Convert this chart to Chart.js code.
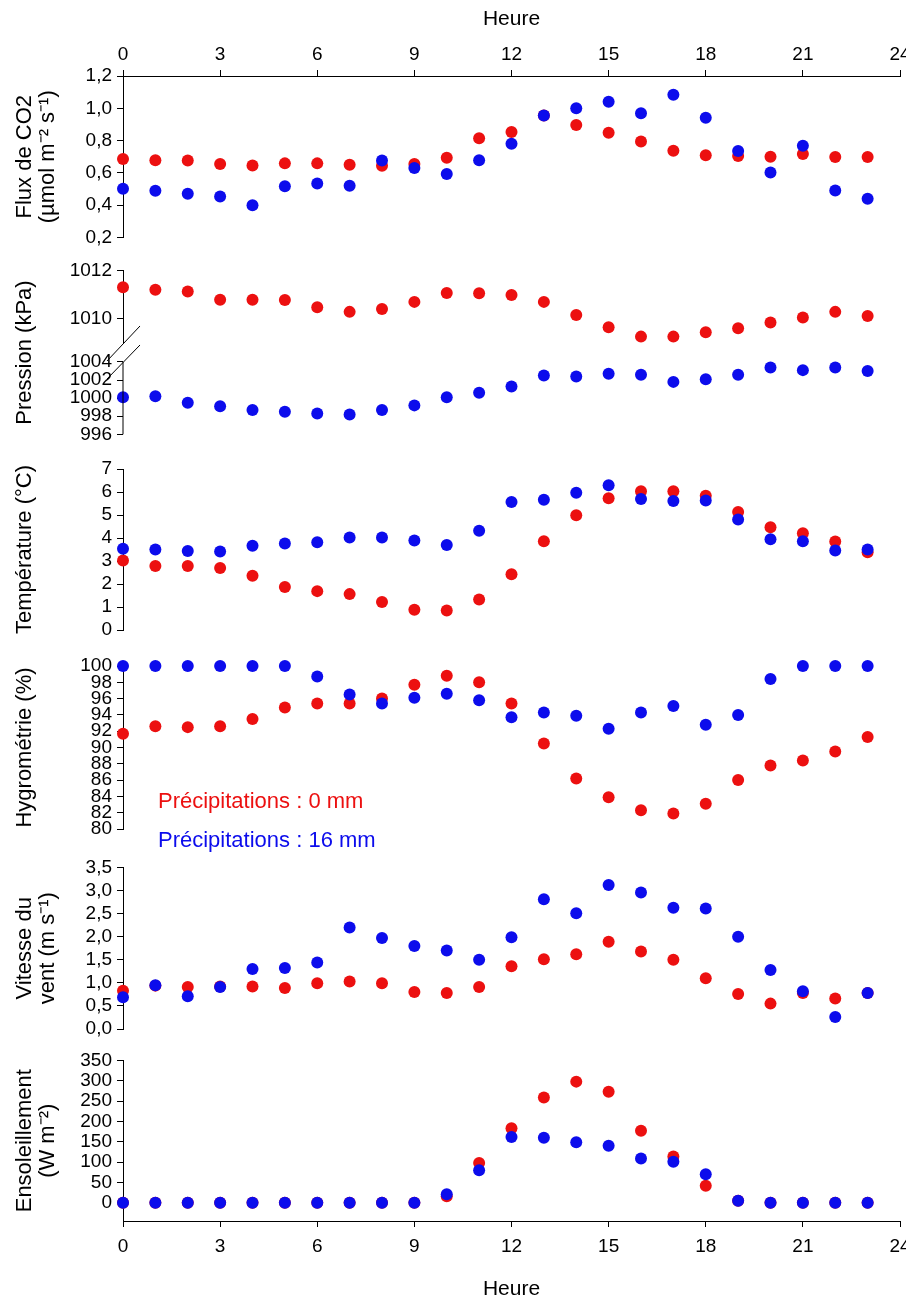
<!DOCTYPE html>
<html lang="fr">
<head>
<meta charset="utf-8">
<title>Cycle journalier - précipitations 0 mm / 16 mm</title>
<script src="https://cdn.jsdelivr.net/npm/chart.js@4.4.1/dist/chart.umd.min.js"></script>
<style>
  body { margin: 0; background: #fff; }
  #wrap { position: relative; width: 906px; height: 1302px; background: #fff; }
  #wrap canvas { position: absolute; left: 0; top: 0; }
</style>
</head>
<body>
<div id="wrap">
  <canvas id="co2" width="906" height="1302"></canvas>
  <canvas id="pressTop" width="906" height="1302"></canvas>
  <canvas id="pressBottom" width="906" height="1302"></canvas>
  <canvas id="temp" width="906" height="1302"></canvas>
  <canvas id="hum" width="906" height="1302"></canvas>
  <canvas id="wind" width="906" height="1302"></canvas>
  <canvas id="sun" width="906" height="1302"></canvas>
</div>
<script>
// Data - "dry" = 0 mm of rain, "wet" = 16 mm
const hours = [0, 1, 2, 3, 4, 5, 6, 7, 8, 9, 10, 11, 12, 13, 14, 15, 16, 17, 18, 19, 20, 21, 22, 23];
const hourTicks = [0, 3, 6, 9, 12, 15, 18, 21, 24];

const co2Dry = [0.686, 0.679, 0.677, 0.655, 0.646, 0.659, 0.659, 0.650, 0.644, 0.655, 0.694, 0.814,
                0.853, 0.955, 0.896, 0.849, 0.795, 0.737, 0.710, 0.704, 0.700, 0.717, 0.698, 0.698];
const co2Wet = [0.502, 0.489, 0.471, 0.454, 0.400, 0.518, 0.535, 0.520, 0.677, 0.630, 0.593, 0.679,
                0.781, 0.956, 1.000, 1.041, 0.969, 1.084, 0.942, 0.735, 0.603, 0.768, 0.491, 0.440];
const co2Ticks = [0.2, 0.4, 0.6, 0.8, 1.0, 1.2];

const pressureDry = [1011.30, 1011.20, 1011.13, 1010.78, 1010.78, 1010.77, 1010.46, 1010.27, 1010.39, 1010.69, 1011.06, 1011.05,
                     1010.98, 1010.69, 1010.14, 1009.62, 1009.23, 1009.23, 1009.41, 1009.58, 1009.82, 1010.03, 1010.27, 1010.10];
const pressureWet = [1000.1, 1000.2, 999.5, 999.1, 998.7, 998.5, 998.3, 998.2, 998.7, 999.2, 1000.1, 1000.6,
                     1001.3, 1002.5, 1002.4, 1002.7, 1002.6, 1001.8, 1002.1, 1002.6, 1003.4, 1003.1, 1003.4, 1003.0];
const pressureTopTicks = [1010, 1012];
const pressureBottomTicks = [996, 998, 1000, 1002, 1004];

const tempDry = [3.02, 2.78, 2.78, 2.70, 2.36, 1.87, 1.69, 1.56, 1.22, 0.88, 0.85, 1.33,
                 2.42, 3.86, 4.99, 5.73, 6.03, 6.03, 5.84, 5.13, 4.47, 4.21, 3.85, 3.38];
const tempWet = [3.53, 3.50, 3.43, 3.41, 3.66, 3.76, 3.82, 4.02, 4.02, 3.89, 3.70, 4.32,
                 5.57, 5.66, 5.97, 6.29, 5.70, 5.61, 5.63, 4.80, 3.95, 3.86, 3.46, 3.50];
const tempTicks = [0, 1, 2, 3, 4, 5, 6, 7];

const humidityDry = [91.7, 92.6, 92.5, 92.6, 93.5, 94.9, 95.4, 95.4, 96.0, 97.7, 98.8, 98.0,
                     95.4, 90.5, 86.2, 83.9, 82.3, 81.9, 83.1, 86.0, 87.8, 88.4, 89.5, 91.3];
const humidityWet = [100, 100, 100, 100, 100, 100, 98.7, 96.5, 95.4, 96.1, 96.6, 95.8,
                     93.7, 94.3, 93.9, 92.3, 94.3, 95.1, 92.8, 94.0, 98.4, 100, 100, 100];
const humidityTicks = [80, 82, 84, 86, 88, 90, 92, 94, 96, 98, 100];

const windDry = [0.83, 0.94, 0.91, 0.92, 0.92, 0.89, 0.99, 1.03, 0.99, 0.80, 0.78, 0.91,
                 1.36, 1.51, 1.62, 1.89, 1.68, 1.50, 1.10, 0.76, 0.55, 0.78, 0.66, 0.78];
const windWet = [0.69, 0.95, 0.71, 0.91, 1.30, 1.32, 1.44, 2.20, 1.97, 1.80, 1.70, 1.50,
                 1.99, 2.81, 2.51, 3.12, 2.96, 2.63, 2.61, 2.00, 1.28, 0.82, 0.26, 0.78];
const windTicks = [0, 0.5, 1.0, 1.5, 2.0, 2.5, 3.0, 3.5];

const sunDry = [0, 0, 0, 0, 0, 0, 0, 0, 0, 0, 16, 98,
                183, 259, 298, 273, 177, 114, 42, 5, 0, 0, 0, 0];
const sunWet = [0, 0, 0, 0, 0, 0, 0, 0, 0, 0, 21, 80,
                162, 160, 149, 140, 109, 101, 70, 5, 0, 0, 0, 0];
const sunTicks = [0, 50, 100, 150, 200, 250, 300, 350];

const LABEL_DRY = 'Précipitations : 0 mm';
const LABEL_WET = 'Précipitations : 16 mm';
const RED = '#ec1010';
const BLUE = '#0c0cec';

// Page geometry
const W = 906, H = 1302;
const AXIS_LEFT = 123;   // pixel of hour 0
const AXIS_RIGHT = 900;  // pixel of hour 24

Chart.defaults.font.family = "'Liberation Sans', Arial, Helvetica, sans-serif";
Chart.defaults.color = '#000';

const toPoints = values => values ? hours.map((h, i) => ({x: h, y: values[i]})) : null;
const fmtInt = v => String(v);
const fmtComma = v => v.toFixed(1).replace('.', ',');

// Legend written in the humidity panel
const legendText = {
    id: 'legendText',
    afterDraw(chart) {
        const {ctx, chartArea} = chart;
        const rows = [136, 175];
        ctx.save();
        ctx.font = "22px 'Liberation Sans', Arial, sans-serif";
        ctx.textBaseline = 'middle';
        chart.data.datasets.forEach((ds, i) => {
            ctx.fillStyle = ds.backgroundColor;
            ctx.fillText(ds.label, chartArea.left + 35, chartArea.top + rows[i]);
        });
        ctx.restore();
    }
};

// Lower part of the broken pressure axis + the two break marks
const axisBreak = {
    id: 'axisBreak',
    afterDraw(chart) {
        const {ctx, chartArea} = chart;
        const y = chart.scales.y;
        const x0 = chartArea.left;
        const yTop = y.getPixelForValue(pressureBottomTicks[pressureBottomTicks.length - 1]);
        ctx.save();
        ctx.strokeStyle = '#000';
        ctx.lineWidth = 1;
        ctx.beginPath();
        ctx.moveTo(x0, yTop);
        ctx.lineTo(x0, chartArea.bottom);
        ctx.moveTo(x0 - 16, yTop - 1);
        ctx.lineTo(x0 + 17, yTop - 36);
        ctx.moveTo(x0 - 16, yTop + 17);
        ctx.lineTo(x0 + 17, yTop - 17);
        ctx.stroke();
        ctx.restore();
    }
};

function makePanel(id, cfg) {
    const datasets = [];
    if (cfg.dry) datasets.push({label: LABEL_DRY, data: toPoints(cfg.dry), backgroundColor: RED, order: 1});
    if (cfg.wet) datasets.push({label: LABEL_WET, data: toPoints(cfg.wet), backgroundColor: BLUE, order: 0});

    const xTop = cfg.xPos === 'top';
    const xBottom = cfg.xPos === 'bottom';

    return new Chart(document.getElementById(id), {
        type: 'scatter',
        data: { datasets: datasets },
        plugins: cfg.plugins || [],
        options: {
            responsive: false,
            animation: false,
            events: [],
            layout: {
                autoPadding: false,
                padding: {
                    left: 0,
                    right: W - AXIS_RIGHT,
                    top: xTop ? 0 : cfg.top,
                    bottom: xBottom ? 0 : H - cfg.bottom
                }
            },
            plugins: {
                legend: { display: false },
                tooltip: { enabled: false }
            },
            elements: {
                point: { radius: 6, hoverRadius: 6, borderWidth: 0 }
            },
            datasets: {
                scatter: { clip: false }
            },
            scales: {
                x: {
                    type: 'linear',
                    min: 0,
                    max: 24,
                    display: !!cfg.xPos,
                    position: cfg.xPos || 'bottom',
                    afterBuildTicks: s => { s.ticks = hourTicks.map(v => ({value: v})); },
                    afterFit: s => {
                        // hidden axes of the middle panels must take no room
                        s.height = xTop ? cfg.top : (xBottom ? H - cfg.bottom : 0);
                        s.paddingLeft = 0;
                        s.paddingRight = 0;
                    },
                    grid: { drawOnChartArea: false, tickLength: 6, color: '#000' },
                    border: { color: '#000' },
                    ticks: {
                        font: { size: 19 },
                        padding: xTop ? 4 : 8,
                        maxRotation: 0,
                        autoSkip: false,
                        callback: fmtInt
                    },
                    title: {
                        display: true,
                        text: 'Heure',
                        font: { size: 21 },
                        padding: xTop ? {top: 7} : {bottom: 0}
                    }
                },
                y: {
                    type: 'linear',
                    min: cfg.min,
                    max: cfg.max,
                    position: 'left',
                    afterBuildTicks: s => { s.ticks = cfg.ticks.map(v => ({value: v})); },
                    afterFit: s => { s.width = AXIS_LEFT; },
                    grid: { drawOnChartArea: false, tickLength: 6, color: '#000' },
                    border: { display: cfg.border !== false, color: '#000' },
                    ticks: {
                        font: { size: 19 },
                        padding: 5,
                        autoSkip: false,
                        callback: cfg.format || fmtInt
                    },
                    title: {
                        display: !!cfg.title,
                        text: cfg.title || '',
                        font: { size: 22, lineHeight: 1.05 },
                        padding: { top: 13.5 }
                    }
                }
            }
        }
    });
}

makePanel('co2', {
    top: 76, bottom: 237.5, min: 0.2, max: 1.2,
    dry: co2Dry, wet: co2Wet, ticks: co2Ticks, format: fmtComma,
    title: ['Flux de CO2', '(µmol m⁻² s⁻¹)'], xPos: 'top'
});

makePanel('pressTop', {
    top: 270.7, bottom: 344, min: 1008.92, max: 1012,
    dry: pressureDry, ticks: pressureTopTicks
});

makePanel('pressBottom', {
    top: 270.7, bottom: 434.3, min: 996, max: 1014.1,
    wet: pressureWet, ticks: pressureBottomTicks, border: false,
    title: 'Pression (kPa)', plugins: [axisBreak]
});

makePanel('temp', {
    top: 469, bottom: 630, min: 0, max: 7,
    dry: tempDry, wet: tempWet, ticks: tempTicks,
    title: 'Température (°C)'
});

makePanel('hum', {
    top: 666, bottom: 829, min: 80, max: 100,
    dry: humidityDry, wet: humidityWet, ticks: humidityTicks,
    title: 'Hygrométrie (%)', plugins: [legendText]
});

makePanel('wind', {
    top: 867.5, bottom: 1029, min: 0, max: 3.5,
    dry: windDry, wet: windWet, ticks: windTicks, format: fmtComma,
    title: ['Vitesse du', 'vent (m s⁻¹)']
});

makePanel('sun', {
    top: 1060.5, bottom: 1221, min: -45, max: 350,
    dry: sunDry, wet: sunWet, ticks: sunTicks,
    title: ['Ensoleillement', '(W m⁻²)'], xPos: 'bottom'
});
</script>
</body>
</html>
